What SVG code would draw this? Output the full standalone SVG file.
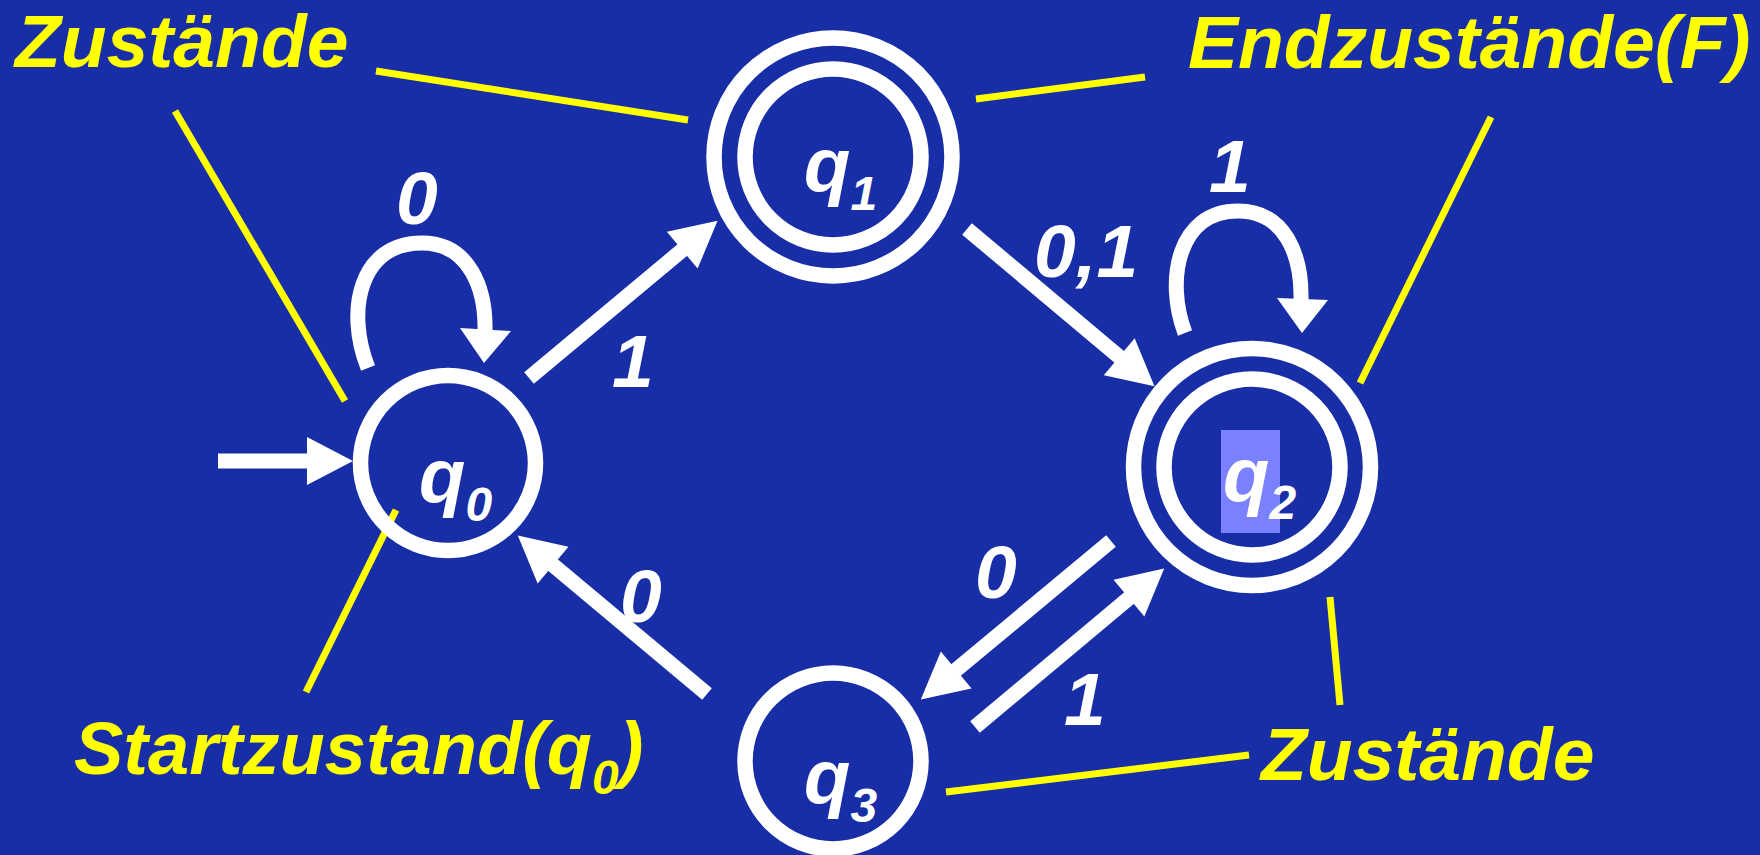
<svg xmlns="http://www.w3.org/2000/svg" width="1760" height="855" viewBox="0 0 1760 855">
  <style>
    .ring { fill: none; stroke: #ffffff; stroke-width: 15.5; }
    .edge { fill: none; stroke: #ffffff; stroke-width: 15; }
    .head { fill: #ffffff; }
    .note { fill: none; stroke: #ffff00; stroke-width: 7; }
    text { font-family: "Liberation Sans", Arial, sans-serif; font-weight: bold; font-style: italic; }
    .state { fill: #ffffff; font-size: 76px; }
    .sub { font-size: 48px; }
    .sym { fill: #ffffff; font-size: 75px; }
    .ann { fill: #ffff00; font-size: 75px; }
  </style>
  <defs>
    <marker id="arrow" markerUnits="userSpaceOnUse" markerWidth="50" markerHeight="50" refX="1" refY="0" viewBox="0 -25 50 50" orient="auto" overflow="visible">
      <path d="M0,-24 L46,0 L0,24 z" fill="#ffffff"/>
    </marker>
  </defs>

  <rect x="0" y="0" width="1760" height="855" fill="#182ea6"/>

  <!-- annotation leader lines -->
  <g id="annotations">
    <line class="note" x1="376" y1="71" x2="688" y2="120"/>
    <line class="note" x1="175" y1="111" x2="345" y2="401"/>
    <line class="note" x1="976" y1="99" x2="1145" y2="77"/>
    <line class="note" x1="1491" y1="117" x2="1360" y2="383"/>
    <line class="note" x1="396" y1="510" x2="306" y2="692"/>
    <line class="note" x1="1330" y1="597" x2="1340" y2="705"/>
    <line class="note" x1="946" y1="792" x2="1249" y2="755"/>
    <text class="ann" x="15" y="67">Zustände</text>
    <text class="ann" x="1188" y="68">Endzustände(F)</text>
    <text class="ann" x="74" y="774" style="font-size:74px">Startzustand(q<tspan class="sub" dy="20">0</tspan><tspan dy="-20">)</tspan></text>
    <text class="ann" x="1261" y="780">Zustände</text>
  </g>

  <!-- transitions -->
  <g id="connectors">
    <!-- start arrow into q0 -->
    <line class="edge" x1="218" y1="461" x2="308" y2="461" marker-end="url(#arrow)"/>
    <!-- q0 self loop -->
    <path class="edge" d="M368,368 C345,310 360,243 422,243 C470,243 486,290 485,331"/>
    <polygon class="head" points="460,328 511,331 484,363"/>
    <!-- q0 -> q1 -->
    <line class="edge" x1="529" y1="378" x2="683" y2="249.5" marker-end="url(#arrow)"/>
    <!-- q1 -> q2 -->
    <line class="edge" x1="967" y1="229" x2="1120" y2="357.4" marker-end="url(#arrow)"/>
    <!-- q2 self loop -->
    <path class="edge" d="M1185,333 C1165,280 1178,211 1238,211 C1285,211 1302,255 1301,300"/>
    <polygon class="head" points="1277,298 1328,300 1302,333"/>
    <!-- q3 -> q0 -->
    <line class="edge" x1="707" y1="694" x2="552.3" y2="564.5" marker-end="url(#arrow)"/>
    <!-- q2 -> q3 -->
    <line class="edge" x1="1111" y1="541" x2="955.4" y2="670.6" marker-end="url(#arrow)"/>
    <!-- q3 -> q2 -->
    <line class="edge" x1="975" y1="727" x2="1129.7" y2="597.5" marker-end="url(#arrow)"/>

    <text class="sym" x="396" y="224">0</text>
    <text class="sym" x="612" y="387">1</text>
    <text class="sym" x="1034" y="277">0,1</text>
    <text class="sym" x="1209" y="192">1</text>
    <text class="sym" x="620" y="622">0</text>
    <text class="sym" x="975" y="598">0</text>
    <text class="sym" x="1064" y="725">1</text>
  </g>

  <g id="q0">
    <circle class="ring" cx="448" cy="463" r="87.5"/>
    <text class="state" x="419" y="502">q<tspan class="sub" dy="19">0</tspan></text>
  </g>

  <g id="q1">
    <circle class="ring" cx="833" cy="157" r="119"/>
    <circle class="ring" cx="833" cy="157" r="88"/>
    <text class="state" x="804" y="191">q<tspan class="sub" dy="19">1</tspan></text>
  </g>

  <g id="q2">
    <circle class="ring" cx="1252" cy="467" r="118.5"/>
    <circle class="ring" cx="1252" cy="467" r="88"/>
    <rect x="1221" y="430" width="59" height="103" fill="#7b80ff"/>
    <text class="state" x="1223" y="501">q<tspan class="sub" dy="18">2</tspan></text>
  </g>

  <g id="q3">
    <circle class="ring" cx="833" cy="761" r="88"/>
    <text class="state" x="804" y="803">q<tspan class="sub" dy="19">3</tspan></text>
  </g>
</svg>
